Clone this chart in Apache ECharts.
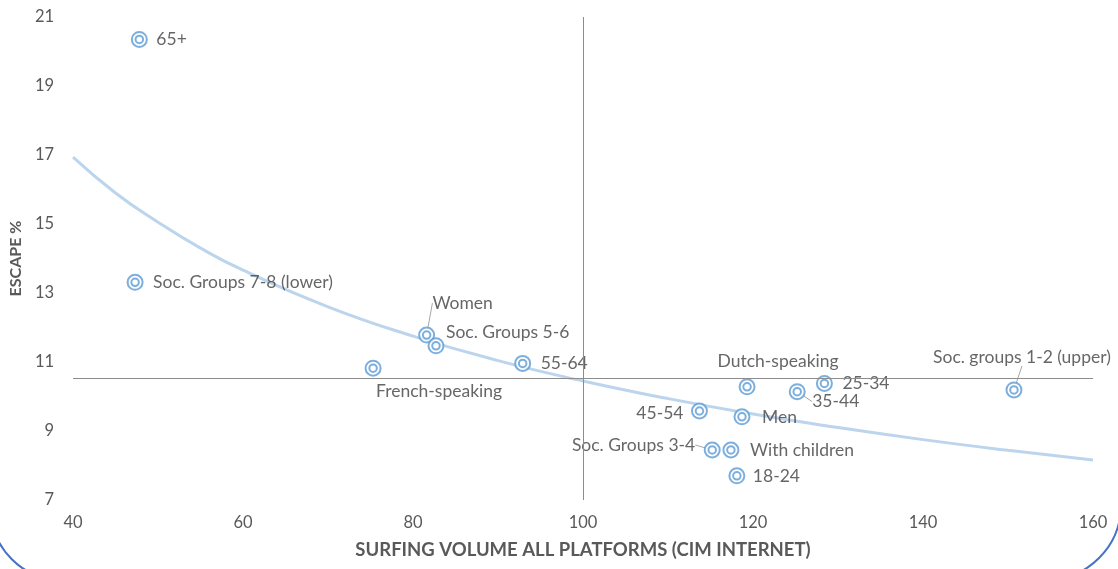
<!DOCTYPE html>
<html>
<head>
<meta charset="utf-8">
<script src="https://cdn.jsdelivr.net/npm/echarts@6/dist/echarts.min.js"></script>
<style>
    html, body { margin: 0; padding: 0; background: #fff; overflow: hidden; }
    #chart { width: 1118px; height: 569px; }
    #frame {
        position: absolute; left: -10px; top: -60px; width: 1132px; height: 641px;
        box-sizing: border-box; border: 2px solid #4472C4;
        border-radius: 0 0 76px 72px; pointer-events: none;
    }
</style>
</head>
<body>
<div id="chart"></div>
<div id="frame"></div>
<script>
// groups
var names = ['65+', 'Soc. Groups 7-8 (lower)', 'Women', 'Soc. Groups 5-6', 'French-speaking',
    '55-64', 'Dutch-speaking', '25-34', '35-44', 'Soc. groups 1-2 (upper)',
    '45-54', 'Men', 'Soc. Groups 3-4', 'With children', '18-24'];
// surfing volume (CIM internet index)
var surfing = [47.8, 47.3, 81.6, 82.7, 75.3, 92.9, 119.3, 128.4, 125.2, 150.7, 113.7, 118.7, 115.2, 117.4, 118.1];
// escape %
var escape = [20.35, 13.31, 11.78, 11.47, 10.82, 10.96, 10.28, 10.38, 10.14, 10.19, 9.58, 9.41, 8.45, 8.45, 7.70];

// trend line
var trendX = [40, 45, 50, 55, 60, 70, 80, 90, 100, 110, 120, 130, 140, 150, 160];
var trendY = [16.94, 15.9, 15.05, 14.3, 13.66, 12.6, 11.75, 11.04, 10.45, 9.94, 9.49, 9.1, 8.75, 8.44, 8.16];

// axis crossing lines
var crossX = 100;
var crossY = 10.53;

// label placement relative to the marker centre: [dx, dy, align, leader line]
var labelPlace = {
    '65+': [17, 0, 'left'],
    'Soc. Groups 7-8 (lower)': [18, 0, 'left'],
    'Women': [36, -32, 'center', true],
    'Soc. Groups 5-6': [10, -13, 'left'],
    'French-speaking': [66, 23, 'center'],
    '55-64': [18, 0, 'left'],
    'Dutch-speaking': [31, -25, 'center'],
    '25-34': [18, 0, 'left'],
    '35-44': [15, 10, 'left', true],
    'Soc. groups 1-2 (upper)': [8, -33, 'center', true],
    '45-54': [-16, 2, 'right'],
    'Men': [20, 1, 'left'],
    'Soc. Groups 3-4': [-17, -5, 'right', true],
    'With children': [19, 0, 'left'],
    '18-24': [16, 1, 'left']
};

var points = names.map(function (n, i) {
    var p = labelPlace[n];
    return {
        name: n,
        value: [surfing[i], escape[i]],
        labelLine: { show: !!p[3] }
    };
});
var trend = trendX.map(function (x, i) { return [x, trendY[i]]; });

var font = 'Lato, "Open Sans", sans-serif';
var chart = echarts.init(document.getElementById('chart'));
chart.setOption({
    animation: false,
    grid: { left: 72, right: 25, top: 17, bottom: 69 },
    xAxis: {
        type: 'value', min: 40, max: 160, interval: 20,
        name: 'SURFING VOLUME ALL PLATFORMS (CIM INTERNET)',
        nameLocation: 'middle', nameGap: 41,
        nameTextStyle: { fontFamily: font, fontSize: 18.5, fontWeight: 'bold', color: '#595959' },
        axisLine: { show: false }, axisTick: { show: false }, splitLine: { show: false },
        axisLabel: { margin: 14, fontFamily: font, fontSize: 16.5, color: '#595959' }
    },
    yAxis: {
        type: 'value', min: 7, max: 21, interval: 2,
        name: 'ESCAPE %',
        nameLocation: 'middle', nameGap: 44,
        nameTextStyle: { fontFamily: font, fontSize: 16, fontWeight: 'bold', color: '#595959' },
        axisLine: { show: false }, axisTick: { show: false }, splitLine: { show: false },
        axisLabel: { margin: 19, fontFamily: font, fontSize: 16.5, color: '#595959' }
    },
    series: [{
        type: 'line',
        data: trend,
        smooth: true,
        showSymbol: false,
        silent: true,
        z: 1,
        lineStyle: { color: '#bcd5ed', width: 3 },
        markLine: {
            silent: true,
            symbol: 'none',
            label: { show: false },
            lineStyle: { color: '#8c8c8c', width: 1, type: 'solid' },
            data: [{ xAxis: crossX }, { yAxis: crossY }]
        }
    }, {
        type: 'scatter',
        data: points,
        symbol: 'emptyCircle',
        symbolSize: 15,
        z: 3,
        itemStyle: { color: '#5B9BD5', borderWidth: 2 },
        label: {
            show: true,
            formatter: '{b}',
            fontFamily: font,
            fontSize: 17.5,
            color: '#404040'
        },
        labelLine: {
            show: false,
            lineStyle: { color: '#a6a6a6', width: 1 }
        },
        labelLayout: function (params) {
            var p = labelPlace[names[params.dataIndex]];
            var r = params.rect;
            return {
                x: r.x + r.width / 2 + p[0],
                y: r.y + r.height / 2 + p[1],
                align: p[2],
                verticalAlign: 'middle'
            };
        }
    }, {
        type: 'scatter',
        data: points.map(function (d) { return d.value; }),
        symbol: 'emptyCircle',
        symbolSize: 7.5,
        silent: true,
        z: 4,
        itemStyle: { color: '#5B9BD5', borderWidth: 2 }
    }]
});
</script>
</body>
</html>
